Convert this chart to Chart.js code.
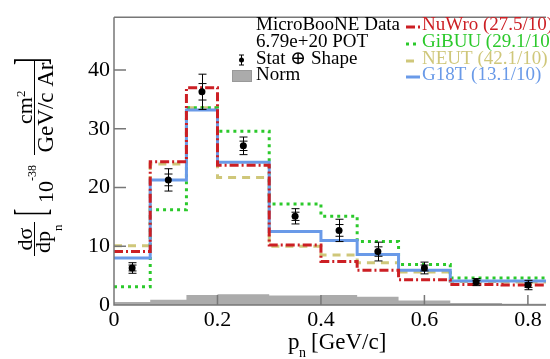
<!DOCTYPE html>
<html>
<head>
<meta charset="utf-8">
<script src="https://cdn.jsdelivr.net/npm/chart.js@4.4.0/dist/chart.umd.min.js"></script>
<style>
  html, body { margin: 0; padding: 0; background: #fff; }
  #wrap { width: 550px; height: 359px; position: relative; }
</style>
</head>
<body>
<div id="wrap"><canvas id="chart"></canvas></div>
<script>
// --- Datos ---
const binEdges = [0, 0.07, 0.14, 0.2, 0.3, 0.4, 0.47, 0.55, 0.65, 0.75, 0.85];
const dataXsec    = [6.3, 21.3, 36.3, 27.1, 15.1, 12.7, 9.1, 6.3, 3.9, 3.4];
const dataTotErr  = [0.9, 1.9, 3.0, 1.5, 1.3, 1.9, 1.6, 1.0, 0.6, 0.8];
const dataStatErr = [0.5, 1.0, 1.4, 0.8, 0.7, 1.0, 0.8, 0.5, 0.3, 0.4];
const nuwro  = [9.1, 24.4, 37.0, 23.8, 10.2, 7.4, 5.9, 4.3, 3.5, 3.4];
const gibuu  = [3.1, 16.2, 33.6, 29.6, 17.2, 15.1, 10.8, 6.9, 4.6, 4.6];
const neut   = [10.1, 24.0, 33.6, 21.7, 10.0, 8.5, 7.2, 5.6, 4.0, 3.9];
const g18t   = [8.0, 21.3, 33.2, 24.3, 12.5, 11.0, 8.6, 5.9, 4.1, 4.1];
const normUnc = [0.5, 0.9, 1.7, 1.85, 1.6, 1.7, 1.4, 0.75, 0.35, 0.2];
const xTicks = [0, 0.2, 0.4, 0.6, 0.8];
const yTicks = [0, 10, 20, 30, 40];
const legendLeft = ['MicroBooNE Data', '6.79e+20 POT', 'Stat \u2295 Shape', 'Norm'];
const legendRight = ['NuWro (27.5/10)', 'GiBUU (29.1/10)', 'NEUT (42.1/10)', 'G18T (13.1/10)'];

const SERIF = '"Liberation Serif", "DejaVu Serif", serif';
const RED = '#cc1f24', GREEN = '#2bc92b', YEL = '#cfc77a', BLUE = '#6a9ae8', GRAY = '#ababab';
const DASH = { red: [9, 3, 2, 3], green: [3, 4], yel: [8, 6], blue: [] };

// --- Helpers ---
function toSteps(vals) {
  return binEdges.map((e, i) => ({ x: e, y: vals[Math.min(i, vals.length - 1)] }));
}
const binCenters = binEdges.slice(0, -1).map((e, i) => (e + binEdges[i + 1]) / 2);

function stepLine(label, vals, color, dash) {
  return {
    label, data: toSteps(vals), stepped: 'before', borderColor: color,
    borderWidth: 3, borderDash: dash, pointRadius: 0, fill: false
  };
}

// --- Marco y ticks hacia adentro ---
const frame = {
  id: 'frame',
  afterDatasetsDraw(chart) {
    const { ctx, chartArea: a, scales: { x, y } } = chart;
    ctx.save();
    ctx.strokeStyle = '#777';
    ctx.lineWidth = 1.5;
    ctx.beginPath();
    ctx.moveTo(a.left, a.top); ctx.lineTo(a.right, a.top);
    ctx.moveTo(a.left, a.top); ctx.lineTo(a.left, a.bottom); ctx.lineTo(a.right, a.bottom);
    xTicks.forEach(v => { const px = x.getPixelForValue(v); ctx.moveTo(px, a.bottom); ctx.lineTo(px, a.bottom - 10); });
    yTicks.forEach(v => { const py = y.getPixelForValue(v); ctx.moveTo(a.left, py); ctx.lineTo(a.left + 12, py); });
    ctx.stroke();

    // barras de error (total y estadistico)
    const meta = chart.getDatasetMeta(0);
    ctx.strokeStyle = '#000';
    ctx.lineWidth = 1;
    ctx.beginPath();
    meta.data.forEach((pt, i) => {
      const px = Math.round(pt.x) + 0.5;
      [dataTotErr[i], dataStatErr[i]].forEach(err => {
        const hi = y.getPixelForValue(dataXsec[i] + err);
        const lo = y.getPixelForValue(dataXsec[i] - err);
        ctx.moveTo(px, hi); ctx.lineTo(px, lo);
        ctx.moveTo(px - 4, hi); ctx.lineTo(px + 4, hi);
        ctx.moveTo(px - 4, lo); ctx.lineTo(px + 4, lo);
      });
    });
    ctx.stroke();
    ctx.restore();
  }
};

// --- Titulos de ejes y leyenda ---
const labels = {
  id: 'labels',
  afterDraw(chart) {
    const ctx = chart.ctx;
    ctx.save();
    ctx.fillStyle = '#000';
    ctx.textBaseline = 'alphabetic';

    // eje X: p_n [GeV/c]
    ctx.font = '23px ' + SERIF;
    ctx.textAlign = 'left';
    ctx.fillText('p', 288, 349);
    ctx.font = '14px ' + SERIF;
    ctx.fillText('n', 299, 357);
    ctx.font = '23px ' + SERIF;
    ctx.fillText('[GeV/c]', 311, 349);

    // eje Y (rotado)
    ctx.save();
    ctx.rotate(-Math.PI / 2);
    ctx.textAlign = 'center';
    ctx.font = '22px ' + SERIF;
    ctx.fillText('d\u03c3', -239, 32);
    const wdp = ctx.measureText('dp').width;
    ctx.textAlign = 'left';
    ctx.fillText('dp', -239 - (wdp + 6) / 2, 50);
    ctx.font = '13px ' + SERIF;
    ctx.fillText('n', -239 - (wdp + 6) / 2 + wdp, 62);
    ctx.font = '22px ' + SERIF;
    ctx.fillText('10', -203, 53);
    ctx.font = '12px ' + SERIF;
    ctx.fillText('-38', -181, 36);
    ctx.font = '22px ' + SERIF;
    const wcm = ctx.measureText('cm').width;
    ctx.fillText('cm', -107.5 - (wcm + 6) / 2, 32);
    ctx.font = '13px ' + SERIF;
    ctx.fillText('2', -107.5 - (wcm + 6) / 2 + wcm, 25);
    ctx.font = '23px ' + SERIF;
    ctx.textAlign = 'center';
    ctx.fillText('GeV/c Ar', -107.5, 53);
    // corchetes estirados
    ctx.font = '22px ' + SERIF;
    ctx.textAlign = 'left';
    ctx.save(); ctx.scale(1, 2); ctx.fillText('[', -216, 22.5); ctx.restore();
    ctx.save(); ctx.scale(1, 2); ctx.fillText(']', -65, 22.5); ctx.restore();
    ctx.strokeStyle = '#000';
    ctx.lineWidth = 1;
    ctx.beginPath();
    ctx.moveTo(-256, 34.5); ctx.lineTo(-222, 34.5);
    ctx.moveTo(-155, 34.5); ctx.lineTo(-60, 34.5);
    ctx.stroke();
    ctx.restore();

    // leyenda
    const rows = [25, 42, 59, 75];
    ctx.font = '19px ' + SERIF;
    ctx.textBaseline = 'middle';
    ctx.textAlign = 'left';
    legendLeft.forEach((t, i) => ctx.fillText(t, 256, rows[i]));
    // marcador de datos
    ctx.beginPath(); ctx.arc(241.5, 60, 2.5, 0, Math.PI * 2); ctx.fill();
    ctx.lineWidth = 1; ctx.strokeStyle = '#000';
    ctx.beginPath();
    ctx.moveTo(241.5, 55); ctx.lineTo(241.5, 65);
    ctx.moveTo(239, 55); ctx.lineTo(244, 55);
    ctx.moveTo(239, 65); ctx.lineTo(244, 65);
    ctx.stroke();
    ctx.fillStyle = GRAY;
    ctx.fillRect(232, 70, 20, 12);
    ctx.strokeStyle = '#999';
    ctx.strokeRect(232.5, 70.5, 19, 11);

    const cols = [RED, GREEN, YEL, BLUE];
    const dashes = [DASH.red, DASH.green, DASH.yel, DASH.blue];
    legendRight.forEach((t, i) => {
      ctx.strokeStyle = cols[i];
      ctx.lineWidth = 3;
      ctx.setLineDash(dashes[i]);
      ctx.beginPath();
      ctx.moveTo(406, rows[i] + 2); ctx.lineTo(420, rows[i] + 2);
      ctx.stroke();
      ctx.setLineDash([]);
      ctx.fillStyle = cols[i];
      ctx.fillText(t, 422, rows[i]);
    });
    ctx.restore();
  }
};

// --- Grafico ---
new Chart(document.getElementById('chart'), {
  type: 'line',
  data: {
    datasets: [
      {
        label: 'MicroBooNE Data', data: binCenters.map((c, i) => ({ x: c, y: dataXsec[i] })),
        showLine: false, pointRadius: 3.5, pointBackgroundColor: '#000', pointBorderWidth: 0
      },
      stepLine('NuWro', nuwro, RED, DASH.red),
      stepLine('G18T', g18t, BLUE, DASH.blue),
      stepLine('GiBUU', gibuu, GREEN, DASH.green),
      stepLine('NEUT', neut, YEL, DASH.yel),
      {
        label: 'Norm', data: toSteps(normUnc), stepped: 'before', borderWidth: 0,
        borderColor: 'rgba(0,0,0,0)', backgroundColor: GRAY, pointRadius: 0, fill: 'origin'
      }
    ]
  },
  options: {
    responsive: true,
    maintainAspectRatio: false,
    animation: false,
    layout: { padding: { top: 6, right: 0, left: 0, bottom: 0 } },
    plugins: { legend: { display: false }, tooltip: { enabled: false } },
    scales: {
      x: {
        type: 'linear', min: 0, max: 0.835,
        grid: { display: false, drawTicks: false }, border: { display: false },
        afterBuildTicks: s => { s.ticks = xTicks.map(v => ({ value: v })); },
        afterFit: s => { s.height = 54; },
        ticks: { padding: 2, color: '#000', font: { family: SERIF, size: 22 }, maxRotation: 0,
                 callback: v => v === 0 ? '0' : v.toFixed(1) }
      },
      y: {
        min: 0, max: 49,
        grid: { display: false, drawTicks: false }, border: { display: false },
        afterBuildTicks: s => { s.ticks = yTicks.map(v => ({ value: v })); },
        afterFit: s => { s.width = 114; },
        ticks: { padding: 4, color: '#000', font: { family: SERIF, size: 22 } }
      }
    }
  },
  plugins: [frame, labels]
});
</script>
</body>
</html>
